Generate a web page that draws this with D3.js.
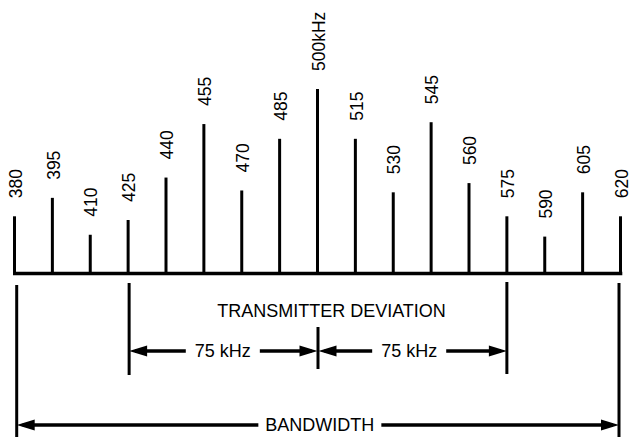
<!DOCTYPE html>
<html>
<head>
<meta charset="utf-8">
<script src="https://cdn.jsdelivr.net/npm/d3@7"></script>
<style>
  html, body { margin: 0; padding: 0; background: #fff; }
  svg { display: block; }
  text { font-family: "Liberation Sans", Arial, sans-serif; fill: #000; }
</style>
</head>
<body>
<script>
// ---- data ----
const frequencies = [380, 395, 410, 425, 440, 455, 470, 485, 500, 515, 530, 545, 560, 575, 590, 605, 620];
const amplitudes  = [0.31, 0.41, 0.21, 0.29, 0.52, 0.81, 0.45, 0.73, 1.00, 0.73, 0.44, 0.82, 0.49, 0.31, 0.20, 0.44, 0.31];
const tickLabels  = ["380", "395", "410", "425", "440", "455", "470", "485", "500kHz", "515", "530", "545", "560", "575", "590", "605", "620"];
const carrierKHz = 500;
const deviationKHz = 75;
const deviationLabel = "75 kHz";
const deviationTitle = "TRANSMITTER DEVIATION";
const bandwidthTitle = "BANDWIDTH";

// ---- layout ----
const W = 631, H = 439;
const svg = d3.select("body").append("svg").attr("width", W).attr("height", H);

const x = d3.scaleLinear().domain([380, 620]).range([14.5, 620.5]);
const y = d3.scaleLinear().domain([0, 1]).range([273.5, 89]);

const data = frequencies.map((f, i) => ({ f, a: amplitudes[i], label: tickLabels[i] }));

// baseline
svg.append("line")
  .attr("x1", x(d3.min(frequencies)) - 1.5).attr("x2", x(d3.max(frequencies)) + 1.8)
  .attr("y1", y(0)).attr("y2", y(0))
  .attr("stroke", "#000").attr("stroke-width", 3.6);

// spectral lines
svg.selectAll("line.bar").data(data).enter().append("line")
  .attr("class", "bar")
  .attr("x1", d => x(d.f)).attr("x2", d => x(d.f))
  .attr("y1", y(0)).attr("y2", d => y(d.a))
  .attr("stroke", "#000").attr("stroke-width", 3);

// rotated labels
svg.selectAll("text.lab").data(data).enter().append("text")
  .attr("class", "lab")
  .attr("transform", d => `translate(${x(d.f) + 1},${y(d.a) - 18}) rotate(-90)`)
  .attr("dy", "0.35em")
  .attr("text-anchor", "start")
  .style("font-size", "17.5px")
  .text(d => d.label);

// ---- annotations ----
const g = svg.append("g");
function vline(xx, y1, y2) {
  g.append("line").attr("x1", xx).attr("x2", xx).attr("y1", y1).attr("y2", y2)
    .attr("stroke", "#000").attr("stroke-width", 3);
}
function hline(x1, x2, yy) {
  g.append("line").attr("x1", x1).attr("x2", x2).attr("y1", yy).attr("y2", yy)
    .attr("stroke", "#000").attr("stroke-width", 3.5);
}
function head(tipX, yy, dir) { // dir: -1 points left, +1 points right
  const L = 18, hw = 5.5;
  const p = d3.path();
  p.moveTo(tipX, yy);
  p.lineTo(tipX - dir * L, yy - hw);
  p.lineTo(tipX - dir * L, yy + hw);
  p.closePath();
  g.append("path").attr("d", p.toString()).attr("fill", "#000");
}
function dimension(xa, xb, yy, label, cx, fontSize, gap) {
  const t = g.append("text").attr("x", cx).attr("y", yy).attr("dy", "0.35em")
    .attr("text-anchor", "middle").style("font-size", fontSize + "px").text(label);
  const w = t.node().getComputedTextLength();
  hline(xa + 6, cx - w / 2 - gap, yy);
  hline(cx + w / 2 + gap, xb - 6, yy);
  head(xa, yy, -1);
  head(xb, yy, 1);
}

const xLo = x(carrierKHz - deviationKHz), xHi = x(carrierKHz + deviationKHz), xC = x(carrierKHz);
const xBL = x(d3.min(frequencies)) + 2.2, xBR = x(d3.max(frequencies)) - 1.5;

// bandwidth verticals
vline(xBL, 285, 437);
vline(xBR, 283, 437);
// deviation verticals
vline(xLo + 1, 283, 375);
vline(xHi, 282, 374);
vline(xC + 0.5, 327, 369);

// deviation title
g.append("text").attr("x", xC + 14).attr("y", 317)
  .attr("text-anchor", "middle").style("font-size", "18px").text(deviationTitle);

// deviation arrows
dimension(xLo + 1, xC, 351, deviationLabel, (xLo + xC) / 2, 18, 9);
dimension(xC + 1, xHi, 351, deviationLabel, (xC + xHi) / 2 - 3, 18, 9);

// bandwidth arrow
dimension(xBL, xBR, 425, bandwidthTitle, (xBL + xBR) / 2 + 2, 18, 7);
</script>
</body>
</html>
